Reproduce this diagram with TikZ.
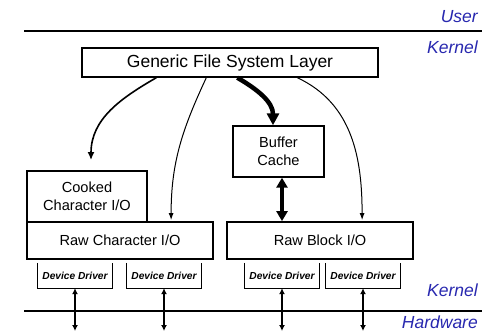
\documentclass[tikz,border=0pt]{standalone}
\usepackage{fontspec}
\setmainfont{Liberation Sans}
\usetikzlibrary{positioning,arrows.meta,calc}
\definecolor{layerblue}{RGB}{40,40,175}

\begin{document}
\begin{tikzpicture}[
  x=1pt, y=-1pt,
  box/.style={draw, line width=1.4pt, inner sep=0pt, align=center,
    font=\fontsize{14.6}{18}\selectfont},
  driver/.style={inner sep=0pt, minimum width=74pt, minimum height=25pt,
    font=\fontsize{10.2}{12}\selectfont\bfseries\itshape},
  zone/.style={anchor=base east, inner sep=0pt, text=layerblue,
    font=\fontsize{17.5}{20}\selectfont\itshape},
  thinarrow/.style={-{Latex[length=7pt,width=5pt]}, line width=1pt},
  midarrow/.style={-{Latex[length=8pt,width=7pt]}, line width=1.6pt},
  fatarrow/.style={-{Triangle[length=12pt,width=12pt]}, line width=4.5pt},
  fatboth/.style={{Triangle[length=10pt,width=11pt]}-{Triangle[length=10pt,width=11pt]}, line width=3.5pt},
  busarrow/.style={{Latex[length=6pt,width=6pt]}-{Latex[length=6pt,width=6pt]}, line width=1.5pt}
]
\useasboundingbox (0,0) rectangle (482,332);

% ---- User / Kernel / Hardware boundaries ----
\draw[line width=2pt] (24,31) -- (482,31);
\draw[line width=2pt] (24,311) -- (482,311);
\node[zone] (user) at (478,23) {User};
\node[zone] (kerneltop) at (478,53) {Kernel};
\node[zone] (kernelbot) at (478,296) {Kernel};
\node[zone] (hardware) at (478,328.5) {Hardware};

% ---- Layers ----
\node[box, minimum width=296pt, minimum height=29pt, font=\fontsize{17.5}{20}\selectfont]
  (gfs) at (230,62.5) {Generic File System Layer};
\node[box, minimum width=91pt, minimum height=51pt] (cache) at (278.5,151.5) {Buffer\\Cache};
\node[box, line width=1.8pt, minimum width=120pt, minimum height=51pt] (cooked) at (87,196.5) {Cooked\\Character I/O};
\node[box, line width=1.8pt, minimum width=186pt, minimum height=37pt] (rawchar) at (120,240.5) {Raw Character I/O};
\node[box, line width=1.8pt, minimum width=186pt, minimum height=37pt] (rawblock) at (320,240.5) {Raw Block I/O};

% ---- Device drivers (open at the top) ----
\node[driver] (d1) at (75,275.5) {Device Driver};
\node[driver] (d2) at (164,275.5) {Device Driver};
\node[driver] (d3) at (282,275.5) {Device Driver};
\node[driver] (d4) at (363,275.5) {Device Driver};
\foreach \d in {d1,d2,d3,d4} {
  \draw[line width=0.9pt] (\d.north west) |- (\d.south east) -- (\d.north east);
}

% ---- Calls from the file system layer ----
\draw[midarrow] ($(gfs.south west)+(75,0)$) to[out=-150,in=90] ($(cooked.north)+(4,-10)$);
\draw[thinarrow] ($(gfs.south west)+(125,0)$) to[out=-115,in=90] ($(rawchar.north west)+(145,-1)$);
\draw[fatarrow] ($(gfs.south west)+(156,0)$) to[out=-30,in=90] ($(cache.north)+(-5.5,0)$);
\draw[thinarrow] ($(gfs.south west)+(216,0)$) to[out=-25,in=90] ($(rawblock.north west)+(136,-1)$);
\draw[fatboth] (cache.south -| d3) -- (rawblock.north -| d3);

% ---- Drivers to hardware ----
\coordinate (hw) at (0,331);
\foreach \d in {d1,d2,d3,d4} {
  \draw[busarrow] (\d.south) -- (\d.south |- hw);
}
\end{tikzpicture}
\end{document}
